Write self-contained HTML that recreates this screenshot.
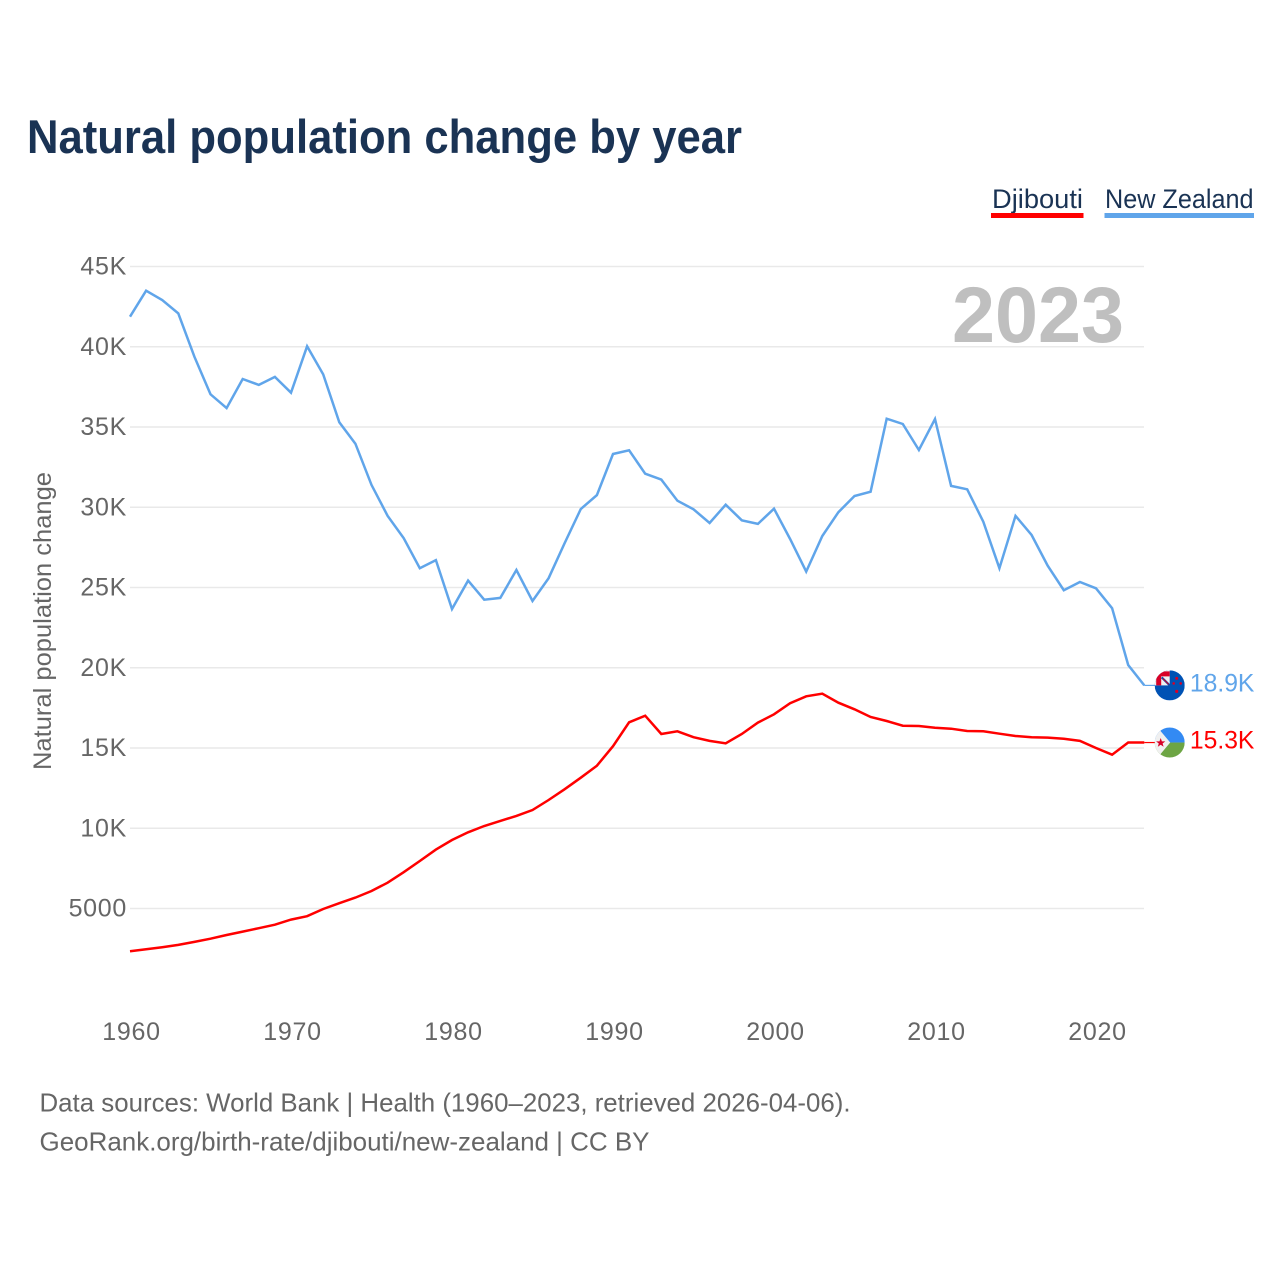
<!DOCTYPE html>
<html lang="en">
<head>
<meta charset="utf-8">
<title>Natural population change by year</title>
<style>
html,body{margin:0;padding:0;background:#fff;width:1280px;height:1280px;overflow:hidden}
svg{display:block}
text{font-family:"Liberation Sans",sans-serif}
.tick{font-size:25px;fill:#666;letter-spacing:.7px}
.foot{font-size:26px;fill:#666}
</style>
</head>
<body>
<svg id="chart" width="1280" height="1280" viewBox="0 0 1280 1280" xmlns="http://www.w3.org/2000/svg">
  <defs>
    <clipPath id="flag-clip"><circle cx="0" cy="0" r="15"/></clipPath>
  </defs>
  <text x="27" y="153" font-size="47" font-weight="700" fill="#1a3354" textLength="715" lengthAdjust="spacingAndGlyphs">Natural population change by year</text>

  <g>
    <text x="992" y="208" font-size="27" fill="#1a3354" textLength="91" lengthAdjust="spacingAndGlyphs">Djibouti</text>
    <rect x="991" y="213" width="92.5" height="5" fill="#ff0000"/>
  </g>
  <g>
    <text x="1105" y="208" font-size="27" fill="#1a3354" textLength="148.5" lengthAdjust="spacingAndGlyphs">New Zealand</text>
    <rect x="1104.5" y="213" width="149.5" height="5" fill="#60a5ea"/>
  </g>

  <g id="grid"></g>
  <g id="yticks"></g>
  <g id="xticks"></g>

  <text x="952" y="342" font-size="79" font-weight="700" fill="#bfbfbf" textLength="172" lengthAdjust="spacingAndGlyphs">2023</text>

  <text transform="translate(51 621) rotate(-90)" text-anchor="middle" font-size="25" fill="#666" textLength="298" lengthAdjust="spacingAndGlyphs">Natural population change</text>

  <g id="series"></g>

  <g id="flag-nz" clip-path="url(#flag-clip)">
    <rect x="-15" y="-15" width="30" height="30" fill="#0052b4"/>
    <rect x="-15" y="-15" width="15" height="15" fill="#f0f0f0"/>
    <path d="M-15 -11.5H0M-11 -15V0" stroke="#d80027" stroke-width="5"/>
    <path d="M-8 -8L0 0" stroke="#0052b4" stroke-width="2.2"/>
    <path d="M-7 -7L-1 -1" stroke="#d80027" stroke-width="1"/>
    <circle cx="7" cy="-7" r="1.5" fill="#d80027"/>
    <circle cx="11" cy="-2" r="1.3" fill="#d80027"/>
    <circle cx="4" cy="-2" r="1.3" fill="#d80027"/>
    <circle cx="7" cy="6" r="1.6" fill="#d80027"/>
  </g>
  <g id="flag-dj" clip-path="url(#flag-clip)">
    <rect x="-15" y="-15" width="30" height="15" fill="#338af3"/>
    <rect x="-15" y="0" width="30" height="15" fill="#6da544"/>
    <path d="M-15 -18.5L.5 0L-15 18.5Z" fill="#f0f0f0"/>
    <path d="M-9 -4.5L-7.8 -1.2H-4.4L-7.1 .9L-6.1 4.2L-9 2.2L-11.9 4.2L-10.9 .9L-13.6 -1.2H-10.2Z" fill="#d80027"/>
  </g>

  <text class="foot" x="39.5" y="1111.5" textLength="811" lengthAdjust="spacingAndGlyphs">Data sources: World Bank | Health (1960–2023, retrieved 2026-04-06).</text>
  <text class="foot" x="39.5" y="1150.5" textLength="610" lengthAdjust="spacingAndGlyphs">GeoRank.org/birth-rate/djibouti/new-zealand | CC BY</text>
</svg>
<script>
const startYear = 1960;
const newZealandValues = [41870,43490,42910,42080,39380,37040,36180,37990,37620,38120,37140,40030,38280,35290,33960,31390,29470,28070,26200,26710,23660,25430,24240,24350,26090,24160,25580,27770,29890,30760,33320,33550,32090,31720,30410,29870,29020,30160,29190,28960,29910,28020,25990,28210,29690,30700,30970,35520,35190,33570,35500,31330,31120,29100,26200,29460,28270,26360,24830,25340,24950,23710,20170,18900];
const djiboutiValues = [2340,2460,2590,2730,2920,3120,3350,3560,3770,3990,4310,4520,4970,5330,5680,6090,6610,7260,7960,8670,9270,9750,10140,10460,10770,11140,11760,12430,13150,13900,15110,16600,17015,15875,16040,15670,15440,15295,15875,16580,17100,17790,18220,18385,17825,17410,16930,16685,16390,16370,16265,16205,16060,16040,15890,15750,15670,15645,15580,15440,15000,14585,15340,15340];
const yTickValues = [5000,10000,15000,20000,25000,30000,35000,40000,45000];
const yTickLabels = ["5000","10K","15K","20K","25K","30K","35K","40K","45K"];
const xTickLabels = [1960,1970,1980,1990,2000,2010,2020];

const NS = "http://www.w3.org/2000/svg";
const xAt = year => 130 + (year - startYear) * 16.1;
const yAt = value => 266.5 + (45000 - value) * 0.01605;
const kLabel = value => (value / 1000).toFixed(1) + "K";

function make(tag, attrs, parent, text) {
  const el = document.createElementNS(NS, tag);
  for (const k in attrs) el.setAttribute(k, attrs[k]);
  if (text !== undefined) el.textContent = text;
  parent.appendChild(el);
  return el;
}

const grid = document.getElementById("grid");
const yticks = document.getElementById("yticks");
const xticks = document.getElementById("xticks");
const series = document.getElementById("series");

yTickValues.forEach((v, i) => {
  const line = make("line", {x1: 130, x2: 1144, y1: yAt(v), y2: yAt(v), stroke: "#e9e9e9", "stroke-width": 1.4}, grid);
  
  
  const label = make("text", {x: 127, y: yAt(v) + 8.2, "text-anchor": "end", class: "tick"}, yticks, yTickLabels[i]);
  
  
});

xTickLabels.forEach(year => {
  const label = make("text", {x: xAt(year) + 1.5, y: 1040, "text-anchor": "middle", class: "tick"}, xticks, year);
  
  
});

function drawSeries(values, color, seriesName, flagId) {
  const pts = values.map((v, i) => xAt(startYear + i).toFixed(1) + "," + yAt(v).toFixed(1)).join(" ");
  const line = make("polyline", {points: pts, fill: "none", stroke: color, "stroke-width": 2.5, "stroke-linejoin": "miter"}, series);
  
  

  const last = values[values.length - 1];
  const lastX = xAt(startYear + values.length - 1);
  const lastY = yAt(last);
  const connector = make("line", {x1: lastX, x2: lastX + 11, y1: lastY, y2: lastY, stroke: color, "stroke-width": 1.2}, series);
  
  

  document.getElementById(flagId).setAttribute("transform", "translate(" + (lastX + 25.4) + " " + lastY + ")");

  const label = make("text", {x: lastX + 45.6, y: lastY + 6, "font-size": 25, fill: color, textLength: 64.5, lengthAdjust: "spacingAndGlyphs"}, document.getElementById("chart"), kLabel(last));
  
  
}

drawSeries(newZealandValues, "#60a5ea", "new-zealand", "flag-nz");
drawSeries(djiboutiValues, "#ff0000", "djibouti", "flag-dj");
</script>
</body>
</html>
